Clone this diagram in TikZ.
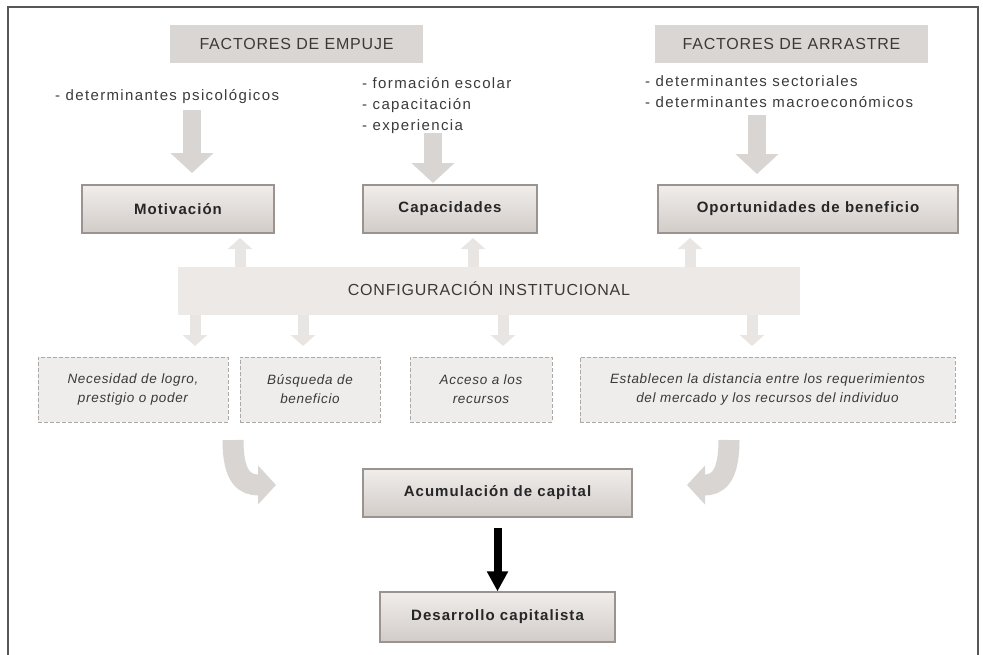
\documentclass[tikz,border=0pt]{standalone}
\usepackage{fontspec}
\setmainfont{Liberation Sans}
\newfontfamily\hdrfont[LetterSpace=5]{Liberation Sans}
\newfontfamily\plainfont[LetterSpace=9]{Liberation Sans}
\newfontfamily\boldfont[LetterSpace=7]{Liberation Sans}
\newfontfamily\italfont[LetterSpace=5]{Liberation Sans}
\usetikzlibrary{arrows.meta,calc}
\definecolor{hdr}{HTML}{DAD6D3}
\definecolor{boxtop}{HTML}{F0EDEB}
\definecolor{boxbot}{HTML}{D2CCC8}
\definecolor{boxline}{HTML}{9A938F}
\definecolor{arrowgray}{HTML}{D9D5D2}
\definecolor{lightarrow}{HTML}{E8E5E3}
\definecolor{band}{HTML}{ECE9E7}
\definecolor{dashfill}{HTML}{EFEDEB}
\definecolor{txt}{HTML}{3C3A39}
\definecolor{frame}{HTML}{5A5655}
\tikzset{
  hdrbox/.style={rectangle, fill=hdr, inner sep=0pt, text=txt, font=\hdrfont\fontsize{16}{18}\selectfont},
  plain/.style={inner sep=0pt, text=txt, font=\plainfont\fontsize{15}{21}\selectfont, align=left},
  mainbox/.style={rectangle, draw=boxline, line width=1.2pt, top color=boxtop, bottom color=boxbot, inner sep=0pt, text=black!85, font=\boldfont\bfseries\fontsize{15}{17}\selectfont},
  dashbox/.style={rectangle, draw=boxline!80, dashed, dash pattern=on 4pt off 2pt, line width=0.9pt, fill=dashfill, inner sep=0pt, text=txt, align=center, font=\italfont\itshape\fontsize{13.5}{19}\selectfont},
  bandbox/.style={rectangle, fill=band, inner sep=0pt, text=txt, font=\hdrfont\fontsize{16}{18}\selectfont},
  bigarrow/.style={draw=arrowgray, line width=18pt, -{Triangle[width=42pt,length=20pt]}},
  smallarrow/.style={draw=lightarrow, line width=11pt, -{Triangle[width=24pt,length=11pt]}},
  curvearrow/.style={draw=arrowgray, line width=21pt, -{Triangle[width=38pt,length=18pt]}},
  blackarrow/.style={draw=black, line width=8pt, -{Triangle[width=20pt,length=20pt]}}
}
\begin{document}
\begin{tikzpicture}[x=1pt,y=-1pt]
\useasboundingbox (0,0) rectangle (983,654);
% frame
\draw[frame, line width=2.2pt] (8,656) -- (8,7) -- (978,7) -- (978,656);

% headers
\node[hdrbox, minimum width=253pt, minimum height=38pt] (emp) at (296.5,44) {FACTORES DE EMPUJE};
\node[hdrbox, minimum width=273pt, minimum height=38pt] (arr) at (791.5,44) {FACTORES DE ARRASTRE};

% determinant texts
\node[plain, anchor=west] (tpsi) at (55,97) {- determinantes psicológicos};
\node[plain, anchor=north west] (tcap) at (362,77) {- formación escolar\\- capacitación\\- experiencia};
\node[plain, anchor=north west] (tarr) at (645,75) {- determinantes sectoriales\\- determinantes macroeconómicos};

% main boxes
\node[mainbox, minimum width=192pt, minimum height=48pt] (mot) at (178,209) {Motivación};
\node[mainbox, minimum width=174pt, minimum height=48pt] (cap) at (450,209) {Capacidades};
\node[mainbox, minimum width=300pt, minimum height=48pt] (opo) at (808,209) {Oportunidades de beneficio};

% band
\node[bandbox, minimum width=622pt, minimum height=48pt] (conf) at (489,291) {\raisebox{5pt}{CONFIGURACIÓN INSTITUCIONAL}};

% dashed boxes
\node[dashbox, minimum width=190pt, minimum height=65pt] (d1) at (133,389.5) {Necesidad de logro,\\prestigio o poder};
\node[dashbox, minimum width=140pt, minimum height=65pt] (d2) at (310,389.5) {Búsqueda de\\beneficio};
\node[dashbox, minimum width=142pt, minimum height=65pt] (d3) at (481,389.5) {Acceso a los\\recursos};
\node[dashbox, minimum width=375pt, minimum height=65pt] (d4) at (767.5,389.5) {Establecen la distancia entre los requerimientos\\del mercado y los recursos del individuo};

% bottom boxes
\node[mainbox, minimum width=269pt, minimum height=48pt] (acu) at (497.5,493) {Acumulación de capital};
\node[mainbox, minimum width=235pt, minimum height=50pt] (des) at (497.5,617) {Desarrollo capitalista};

% big gray arrows
\coordinate (a1s) at (192,110); \coordinate (a1e) at (192,173);
\coordinate (a2s) at (433,133); \coordinate (a2e) at (433,183);
\coordinate (a3s) at (757,115); \coordinate (a3e) at (757,174);
\draw[bigarrow] (a1s) -- (a1e);
\draw[bigarrow] (a2s) -- (a2e);
\draw[bigarrow] (a3s) -- (a3e);

% small arrows: band up to boxes
\draw[smallarrow] (240,267) -- (240,238);
\draw[smallarrow] (473,267) -- (473,238);
\draw[smallarrow] (690,267) -- (690,238);
% small arrows: band down to dashed boxes
\draw[smallarrow] (195,315) -- (195,346);
\draw[smallarrow] (303,315) -- (303,346);
\draw[smallarrow] (503,315) -- (503,346);
\draw[smallarrow] (752,315) -- (752,346);

% curved arrows
\coordinate (c1s) at (233,440); \coordinate (c1e) at (276,485);
\coordinate (c2s) at (729,440); \coordinate (c2e) at (687,485);
\draw[curvearrow] (c1s) .. controls (233,478) and (245,485) .. (c1e);
\draw[curvearrow] (c2s) .. controls (729,478) and (717,485) .. (c2e);

% black arrow
\draw[blackarrow] ($(acu.south)+(0,10)$) -- (des.north);
\end{tikzpicture}
\end{document}
